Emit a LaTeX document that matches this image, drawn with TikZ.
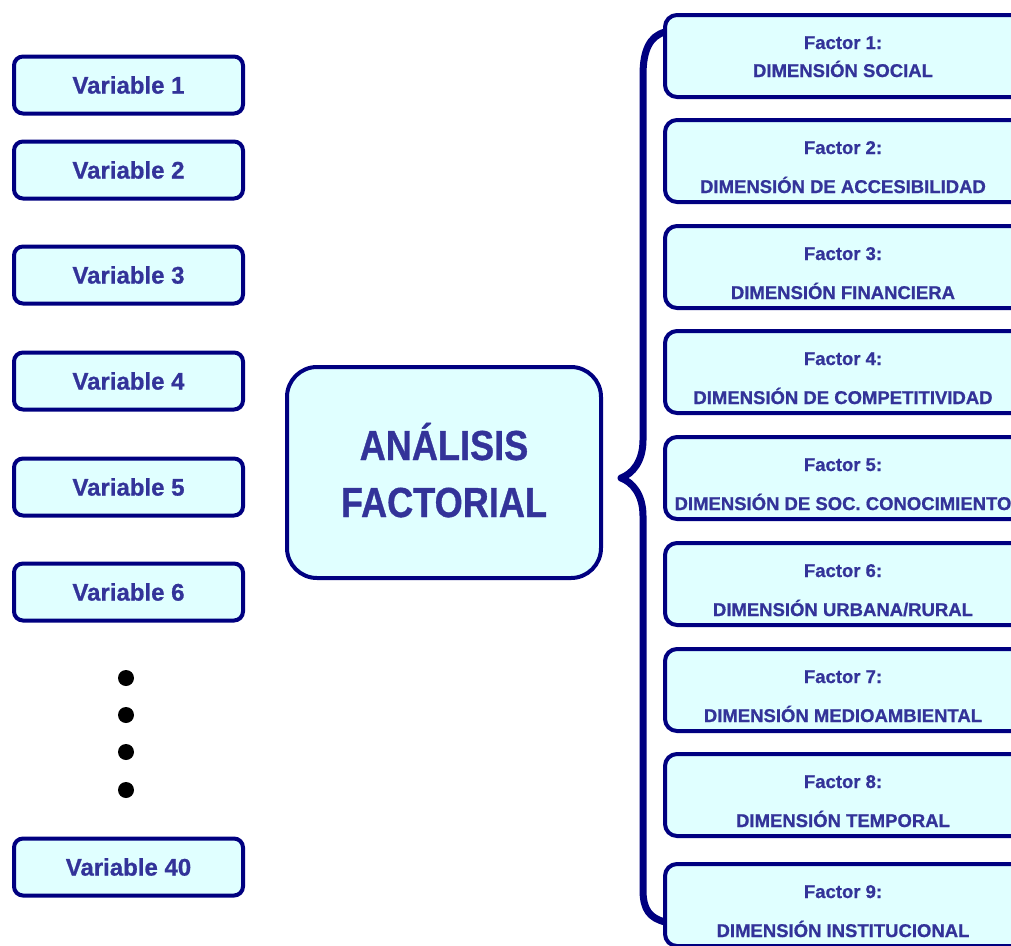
\documentclass[tikz,border=0pt]{standalone}
\usepackage{fontspec}
\setmainfont{Liberation Sans}[FakeBold=0.8]
\newfontfamily\condfont{Liberation Sans}[FakeStretch=0.86,FakeBold=0.8]
\usetikzlibrary{calc}
\definecolor{bordernavy}{RGB}{0,0,128}
\definecolor{boxfill}{RGB}{224,255,255}
\definecolor{txtblue}{RGB}{51,51,153}
\begin{document}
\begin{tikzpicture}[x=1pt,y=-1pt,
  varbox/.style={draw=bordernavy, line width=4pt, fill=boxfill, rounded corners=9pt,
    minimum width=229pt, minimum height=57pt, inner sep=0pt, text=txtblue,
    font=\bfseries\fontsize{24}{28}\selectfont},
  mainbox/.style={draw=bordernavy, line width=4pt, fill=boxfill, rounded corners=30pt,
    minimum width=314pt, minimum height=211pt, inner sep=0pt},
  maintext/.style={text=txtblue, inner sep=0pt, anchor=base,
    font=\condfont\bfseries\fontsize{42}{50}\selectfont},
  factorbox/.style={draw=bordernavy, line width=4pt, fill=boxfill, rounded corners=12pt,
    minimum width=360pt, minimum height=82pt, inner sep=0pt},
  ftext/.style={text=txtblue, inner sep=0pt, anchor=base,
    font=\bfseries\fontsize{18.5}{22}\selectfont},
  bigdot/.style={circle, fill=black, minimum size=16pt, inner sep=0pt},
  bracepath/.style={draw=bordernavy, line width=7pt, line cap=round, line join=round}
]
\useasboundingbox (0,0) rectangle (1011,945);
\clip (0,0) rectangle (1011,945);

% Variables
\node[varbox] (v1) at (128.5,85) {Variable 1};
\node[varbox] (v2) at (128.5,170) {Variable 2};
\node[varbox] (v3) at (128.5,275) {Variable 3};
\node[varbox] (v4) at (128.5,381) {Variable 4};
\node[varbox] (v5) at (128.5,487) {Variable 5};
\node[varbox] (v6) at (128.5,592) {Variable 6};
\node[varbox] (v40) at (128.5,867) {Variable 40};

\node[bigdot] (d1) at (126,678) {};
\node[bigdot] (d2) at (126,715) {};
\node[bigdot] (d3) at (126,752) {};
\node[bigdot] (d4) at (126,790) {};

% Central box
\node[mainbox] (af) at (444,472.5) {};
\node[maintext] (af1) at (444,460) {ANÁLISIS};
\node[maintext] (af2) at (444,517) {FACTORIAL};

% Brace
\draw[bracepath] (665,32) .. controls (650,36) and (643,50) .. (643,75)
  -- (643,440) .. controls (643,462) and (632,474) .. (621,478)
  .. controls (632,482) and (643,494) .. (643,516)
  -- (643,890) .. controls (643,910) and (650,918) .. (665,922);

% Factors
\foreach \k/\t/\la/\lb/\txt in {
  1/13/36/64/{DIMENSIÓN SOCIAL},
  2/118/36/75/{DIMENSIÓN DE ACCESIBILIDAD},
  3/224/36/75/{DIMENSIÓN FINANCIERA},
  4/329/36/75/{DIMENSIÓN DE COMPETITIVIDAD},
  5/435/36/75/{DIMENSIÓN DE SOC. CONOCIMIENTO},
  6/541/36/75/{DIMENSIÓN URBANA/RURAL},
  7/647/36/75/{DIMENSIÓN MEDIOAMBIENTAL},
  8/752/36/75/{DIMENSIÓN TEMPORAL},
  9/862/36/75/{DIMENSIÓN INSTITUCIONAL}}{
  \node[factorbox] (f\k) at (845,\t+43) {};
  \node[ftext] (f\k a) at (843,\t+\la) {Factor \k:};
  \node[ftext] (f\k b) at (843,\t+\lb) {\txt};
}
\end{tikzpicture}
\end{document}
